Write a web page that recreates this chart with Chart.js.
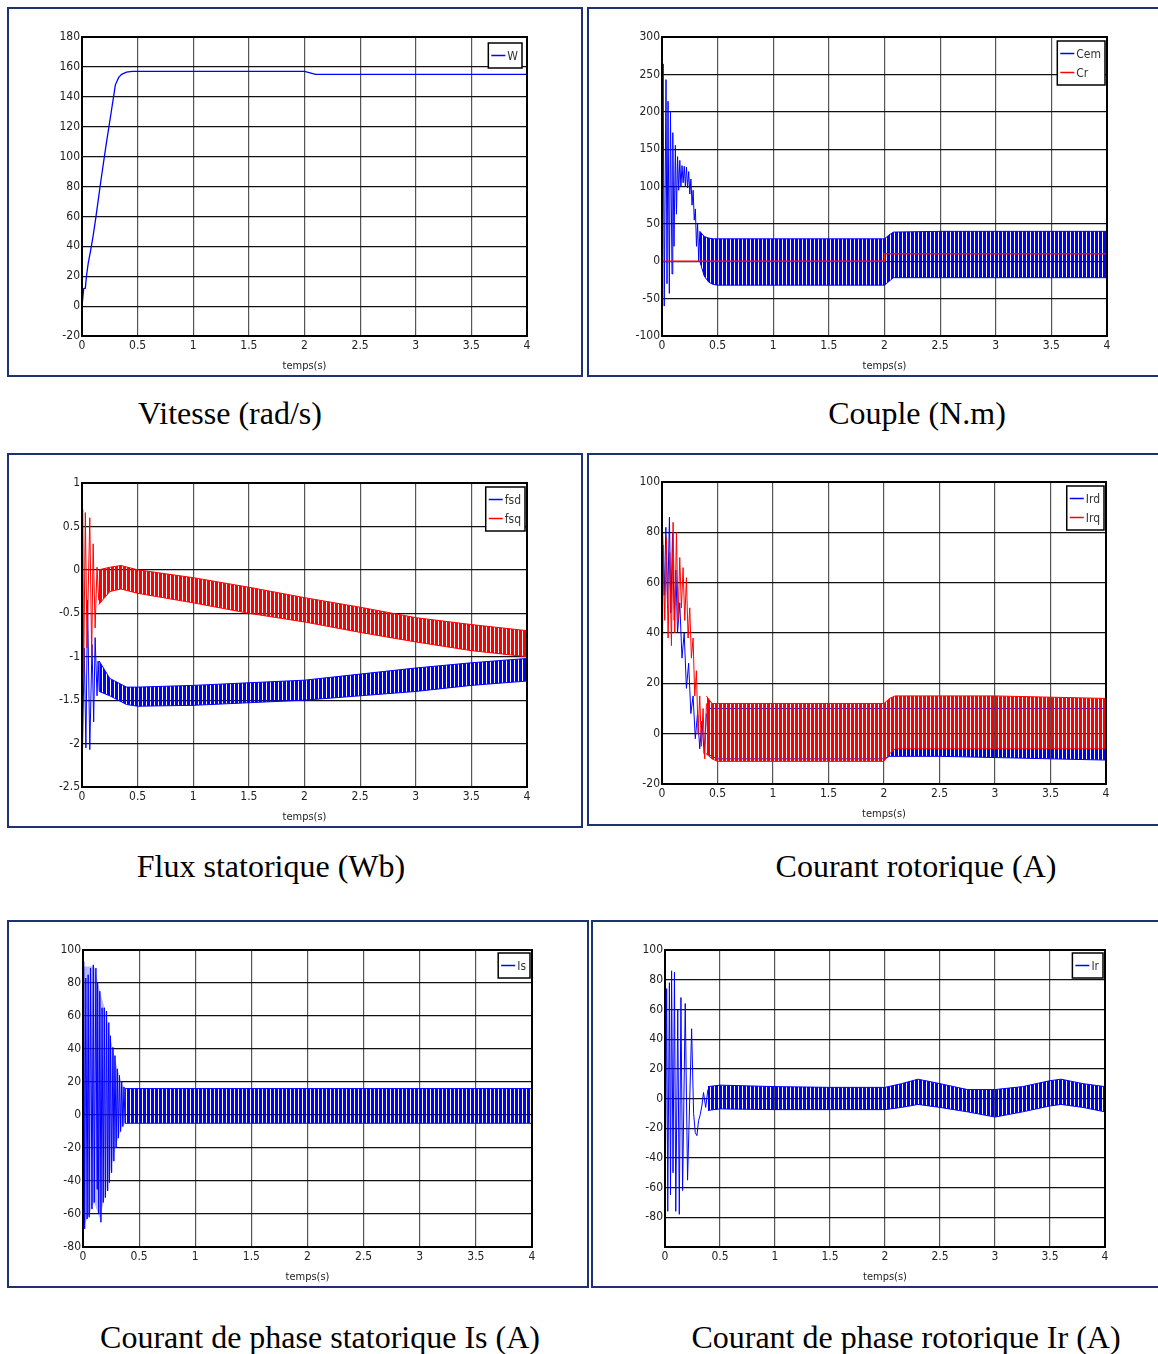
<!DOCTYPE html>
<html><head><meta charset="utf-8">
<script src="https://cdn.jsdelivr.net/npm/chart.js@4.4.1/dist/chart.umd.min.js"></script>
<style>
html,body{margin:0;padding:0;background:#fff;}
body{width:1158px;height:1354px;position:relative;overflow:hidden;}
.box{position:absolute;border:2px solid #1d3371;box-sizing:border-box;}
canvas{position:absolute;}
.cap{position:absolute;font-family:'Liberation Serif','Times New Roman',serif;font-size:32px;color:#000;white-space:nowrap;transform:translate(-50%,-50%);}
</style></head><body>
<div class="cap" style="left:230px;top:413px">Vitesse (rad/s)</div>
<div class="cap" style="left:917px;top:413px">Couple (N.m)</div>
<div class="cap" style="left:271px;top:866px">Flux statorique (Wb)</div>
<div class="cap" style="left:916px;top:866px">Courant rotorique (A)</div>
<div class="cap" style="left:320px;top:1337px">Courant de phase statorique Is (A)</div>
<div class="cap" style="left:906px;top:1337px">Courant de phase rotorique Ir (A)</div>
<script>
// ---------- tick labels ----------
const xTicks = [0,0.5,1,1.5,2,2.5,3,3.5,4];
const xTitle = 'temps(s)';
const yTicksW = [-20,0,20,40,60,80,100,120,140,160,180];
const yTicksCem = [-100,-50,0,50,100,150,200,250,300];
const yTicksFlux = [-2.5,-2,-1.5,-1,-0.5,0,0.5,1];
const yTicksIr = [-20,0,20,40,60,80,100];
const yTicksIs = [-80,-60,-40,-20,0,20,40,60,80,100];
const yTicksIrPh = [-100,-80,-60,-40,-20,0,20,40,60,80,100];
const yLabelsIrPh = ['','-80','-60','-40','-20','0','20','40','60','80','100'];

// ---------- Vitesse ----------
const W_t = [0,0.015,0.03,0.04,0.056,0.077,0.1,0.124,0.17,0.217,0.263,0.3,0.33,0.356,0.4,0.45,1.0,1.5,2.0,2.05,2.1,2.5,3,3.5,4];
const W_v = [0,11.6,12,20,28.7,37,47,59,84,108,130,148,153,155,156.5,157,157,157,157,156,155,155,155,155,155];

// ---------- Couple ----------
const Cem_tr_t = [0,0.005,0.01,0.02,0.036,0.045,0.054,0.066,0.076,0.09,0.097,0.108,0.12,0.13,0.14,0.15,0.16,0.17,0.18,0.19,0.2,0.21,0.22,0.23,0.24,0.25,0.26,0.27,0.28,0.29,0.3,0.31,0.32,0.33,0.34];
const Cem_tr_v = [0,150,264,-60,243,-30,214,-43,201,-17,172,20,155,63,140,95,135,100,128,105,127,100,126,98,120,90,110,75,95,55,70,20,50,0,40];
const Cem_b_t = [0.34,0.38,0.42,0.46,0.5,1,1.5,1.98,2.0,2.04,2.08,2.5,3,3.5,4];
const Cem_up = [40,33,31,30,30,30,30,30,30,35,39,40,40,40,40];
const Cem_lo = [0,-20,-28,-31,-32,-32,-32,-32,-32,-27,-22,-22,-22,-22,-22];
const Cr_t = [0,2,2,4];
const Cr_v = [0,0,10,10];

// ---------- Flux statorique ----------
const fsq_tr_t = [0,0.006,0.015,0.03,0.045,0.07,0.087,0.1,0.118,0.135,0.15];
const fsq_tr_v = [-1.3,0.7,-1.2,0.66,-0.9,0.6,-1.0,0.3,-0.67,0.03,-0.35];
const fsq_b_t = [0.15,0.25,0.35,0.5,1,1.5,2,2.5,3,3.5,4];
const fsq_up = [0.0,0.03,0.05,0.0,-0.09,-0.2,-0.32,-0.43,-0.55,-0.63,-0.7];
const fsq_lo = [-0.4,-0.25,-0.22,-0.27,-0.38,-0.5,-0.6,-0.72,-0.83,-0.93,-1.0];
const fsd_tr_t = [0,0.003,0.02,0.035,0.05,0.07,0.09,0.105,0.118,0.135,0.145,0.155];
const fsd_tr_v = [-1.3,-2.2,-0.9,-2.05,-0.35,-2.07,-0.86,-1.75,-0.78,-1.45,-1.05,-1.4];
const fsd_b_t = [0.155,0.25,0.4,0.5,1,1.5,2,2.5,3,3.5,4];
const fsd_up = [-1.05,-1.25,-1.35,-1.35,-1.33,-1.3,-1.27,-1.2,-1.13,-1.07,-1.02];
const fsd_lo = [-1.4,-1.45,-1.55,-1.57,-1.56,-1.53,-1.5,-1.45,-1.4,-1.33,-1.28];

// ---------- Courant rotorique ----------
const Ird_tr_t = [0,0.005,0.02,0.035,0.05,0.067,0.08,0.095,0.11,0.125,0.14,0.16,0.18,0.2,0.22,0.24,0.26,0.28,0.3,0.32,0.34,0.36,0.38,0.4];
const Ird_tr_v = [0,80,55,82,50,86,48,80,45,65,40,52,30,40,18,28,8,15,-2,8,-6,5,-8,8];
const Ird_b_t = [0.4,0.5,1,1.5,2,2.05,2.5,3,3.5,4];
const Ird_up = [10,10,10,10,10,10,10,10,10,10];
const Ird_lo = [-8,-10,-10,-10,-10,-9,-9,-9.5,-10,-10.5];
const Irq_tr_t = [0,0.01,0.025,0.04,0.055,0.07,0.085,0.1,0.115,0.13,0.145,0.16,0.175,0.19,0.205,0.22,0.235,0.25,0.265,0.28,0.295,0.31,0.325,0.34,0.355,0.37,0.385,0.4];
const Irq_tr_v = [0,75,45,78,38,72,35,84,40,80,45,70,50,66,45,62,38,50,30,38,15,25,0,15,-5,10,-10,12];
const Irq_b_t = [0.4,0.45,0.5,1,1.5,2,2.05,2.1,2.5,3,3.5,4];
const Irq_up = [15,12,12,12,12,12,14,15,15,15,14.5,14];
const Irq_lo = [-8,-10,-11,-11,-11,-11,-8,-6,-6,-6,-6,-6];

// ---------- Is ----------
const Is_tr_t = [0,0.006,0.015,0.025,0.037,0.046,0.055,0.067,0.08,0.092,0.1,0.115,0.125,0.13,0.14,0.15,0.16,0.17,0.18,0.19,0.2,0.21,0.22,0.23,0.236,0.245,0.255,0.267,0.275,0.285,0.295,0.305,0.315,0.325,0.335,0.345,0.355,0.365,0.375];
const Is_tr_v = [0,93,-69,83,-63,85,-62,89,-57,91,-53,89,-45,80,-60,75,-65,65,-53,65,-50,63,-46,56,-41,48,-35,41,-28,36,-20,28,-14,24,-10,20,-7,17,-5];
const Is_env_t = [0.005,0.1,0.15,0.2,0.25,0.3,0.35,0.375];
const Is_env_up = [90,90,75,63,45,30,18,16];
const Is_env_lo = [-68,-53,-63,-48,-32,-17,-7,-5];
const Is_b_t = [0.375,0.5,1,1.5,2,2.5,3,3.5,4];
const Is_up = [16,16,16,16,16,16,16,16,16];
const Is_lo = [-5,-5,-5,-5,-5,-5,-5,-5,-5];

// ---------- Ir ----------
const Ir_tr_t = [0,0.015,0.025,0.04,0.05,0.06,0.073,0.086,0.098,0.116,0.13,0.145,0.16,0.184,0.205,0.242,0.26,0.275,0.29,0.305,0.32,0.335,0.35,0.37,0.39];
const Ir_tr_v = [-80,74,-76,78,-65,86,-50,85,-76,60,-78,68,-62,64,-55,47,-10,-23,-25,-15,-11,-5,4,-6,6];
const Ir_b_t = [0.39,0.5,1,1.5,2,2.15,2.3,2.5,2.75,3,3.25,3.5,3.6,3.8,4];
const Ir_up = [8,9,8,7.5,7.5,10,13,10,6,6,8,12,13,10,8];
const Ir_lo = [-8,-7,-7.5,-7.5,-7.5,-6,-4,-6,-9,-12.5,-9,-5,-4,-6,-9];

// ---------- helpers ----------
const BLUE = '#0000ff', RED = '#ff0000';
function stripes(color) {
  const c = document.createElement('canvas');
  c.width = 4; c.height = 4;
  const x = c.getContext('2d');
  x.fillStyle = color; x.fillRect(0, 0, 3, 4);
  return x.createPattern(c, 'repeat');
}
const BLUE_FILL = stripes(BLUE), RED_FILL = stripes(RED);
const PALE_FILL = 'rgba(80,80,255,0.4)';
const NARROW = "'Liberation Sans Narrow','DejaVu Sans Condensed','Arial Narrow',sans-serif";
const pts = (t, v) => t.map((x, i) => ({x: x, y: v[i]}));
function line(label, t, v, color, order, w) {
  return {label, data: pts(t, v), borderColor: color, borderWidth: w || 1, fill: false, order: order};
}
function band(label, t, up, lo, color, fillColor, order, bw) {
  const w = bw === undefined ? 1 : bw;
  return [
    {label: label + '_up', data: pts(t, up), borderColor: color, borderWidth: w, fill: false, order: order},
    {label: label + '_lo', data: pts(t, lo), borderColor: color, borderWidth: w, fill: '-1', backgroundColor: fillColor, order: order}
  ];
}

const framePlugin = {
  id: 'frame',
  afterDraw(chart, args, opts) {
    const ctx = chart.ctx, a = chart.chartArea;
    ctx.save();
    ctx.strokeStyle = '#000'; ctx.lineWidth = 2;
    ctx.strokeRect(a.left, a.top, a.right - a.left, a.bottom - a.top);
    ctx.fillStyle = '#222';
    ctx.font = '11px ' + NARROW;
    ctx.textAlign = 'center'; ctx.textBaseline = 'middle';
    ctx.fillText(opts.title, (a.left + a.right) / 2, a.bottom + 30);
    const items = opts.items;
    ctx.font = '12px ' + NARROW;
    let tw = 0;
    items.forEach(it => { tw = Math.max(tw, ctx.measureText(it.label).width); });
    const rowH = 19, pad = 3, lineL = 14;
    const bw = pad + lineL + 2 + tw + pad + 1;
    const bh = pad * 2 + rowH * items.length;
    const bx = a.right - opts.dx - bw, by = a.top + opts.dy;
    ctx.fillStyle = '#fff';
    ctx.fillRect(bx, by, bw, bh);
    ctx.strokeStyle = '#000'; ctx.lineWidth = 1.5;
    ctx.strokeRect(bx, by, bw, bh);
    items.forEach((it, i) => {
      const cy = by + pad + rowH * i + rowH / 2;
      ctx.strokeStyle = it.color; ctx.lineWidth = 1.5;
      ctx.beginPath(); ctx.moveTo(bx + pad, cy); ctx.lineTo(bx + pad + lineL, cy); ctx.stroke();
      ctx.fillStyle = '#333'; ctx.textAlign = 'left'; ctx.textBaseline = 'middle';
      ctx.fillText(it.label, bx + pad + lineL + 2, cy + 1);
    });
    ctx.restore();
  }
};

function makeChart(g, yMin, yMax, yTicks, yLabels, datasets, legendItems, legendOff) {
  const YW = 40, XH = 32;
  const box = document.createElement('div');
  box.className = 'box';
  box.style.left = g.L + 'px'; box.style.top = g.T + 'px';
  box.style.width = (g.R - g.L) + 'px'; box.style.height = (g.B - g.T) + 'px';
  document.body.appendChild(box);
  const cv = document.createElement('canvas');
  cv.width = g.R - g.L; cv.height = g.B - g.T;
  cv.style.left = g.L + 'px'; cv.style.top = g.T + 'px';
  cv.style.width = (g.R - g.L) + 'px'; cv.style.height = (g.B - g.T) + 'px';
  document.body.appendChild(cv);
  return new Chart(cv.getContext('2d'), {
    type: 'line',
    data: {datasets: datasets},
    plugins: [framePlugin],
    options: {
      responsive: false, animation: false, devicePixelRatio: 1,
      layout: {autoPadding: false, padding: {left: g.x0 - g.L - YW, top: g.y0 - g.T, right: g.R - g.x1, bottom: g.B - g.y1 - XH}},
      elements: {point: {radius: 0, hoverRadius: 0}, line: {tension: 0}},
      plugins: {legend: {display: false}, tooltip: {enabled: false},
        frame: {title: xTitle, items: legendItems, dx: legendOff[0], dy: legendOff[1]}},
      scales: {
        x: {type: 'linear', min: 0, max: 4,
          afterFit: s => { s.height = XH; },
          afterBuildTicks: s => { s.ticks = xTicks.map(v => ({value: v})); },
          ticks: {autoSkip: false, maxRotation: 0, padding: 3, color: '#222', font: {family: NARROW, size: 12},
            callback: v => String(v)},
          grid: {color: '#555', lineWidth: 1.2, drawTicks: false},
          border: {display: false}},
        y: {type: 'linear', min: yMin, max: yMax,
          afterFit: s => { s.width = YW; },
          afterBuildTicks: s => { s.ticks = yTicks.map(v => ({value: v})); },
          ticks: {autoSkip: false, padding: 2, color: '#222', font: {family: NARROW, size: 12},
            callback: (v, i) => yLabels ? yLabels[i] : String(v)},
          grid: {color: '#111', lineWidth: 1.2, drawTicks: false},
          border: {display: false}}
      }
    }
  });
}

// ---------- panels ----------
makeChart({L:7,T:7,R:583,B:377,x0:82,x1:527,y0:37,y1:336}, -20, 180, yTicksW, null,
  [line('W', W_t, W_v, BLUE, 0, 1.3)],
  [{label: 'W', color: BLUE}], [5, 6]);

makeChart({L:587,T:7,R:1162,B:377,x0:662,x1:1107,y0:37,y1:336}, -100, 300, yTicksCem, null,
  [line('Cr', Cr_t, Cr_v, RED, 0, 1.5),
   line('Cem', Cem_tr_t, Cem_tr_v, BLUE, 1, 1)].concat(band('Cem', Cem_b_t, Cem_up, Cem_lo, BLUE, BLUE_FILL, 1)),
  [{label: 'Cem', color: BLUE}, {label: 'Cr', color: RED}], [2, 4]);

makeChart({L:7,T:453,R:583,B:828,x0:82,x1:527,y0:483,y1:787}, -2.5, 1, yTicksFlux, null,
  [line('fsq', fsq_tr_t, fsq_tr_v, RED, 0, 1),
   line('fsd', fsd_tr_t, fsd_tr_v, BLUE, 1, 1)]
   .concat(band('fsq', fsq_b_t, fsq_up, fsq_lo, RED, RED_FILL, 0))
   .concat(band('fsd', fsd_b_t, fsd_up, fsd_lo, BLUE, BLUE_FILL, 1)),
  [{label: 'fsd', color: BLUE}, {label: 'fsq', color: RED}], [2, 4]);

makeChart({L:587,T:453,R:1162,B:826,x0:662,x1:1106,y0:482,y1:784}, -20, 100, yTicksIr, null,
  [line('Irq', Irq_tr_t, Irq_tr_v, RED, 0, 1),
   line('Ird', Ird_tr_t, Ird_tr_v, BLUE, 1, 1)]
   .concat(band('Irq', Irq_b_t, Irq_up, Irq_lo, RED, RED_FILL, 0))
   .concat(band('Ird', Ird_b_t, Ird_up, Ird_lo, BLUE, BLUE_FILL, 1)),
  [{label: 'Ird', color: BLUE}, {label: 'Irq', color: RED}], [2, 4]);

makeChart({L:7,T:920,R:589,B:1288,x0:83,x1:532,y0:950,y1:1247}, -80, 100, yTicksIs, null,
  [line('Is', Is_tr_t, Is_tr_v, BLUE, 0, 1)]
   .concat(band('Is_env', Is_env_t, Is_env_up, Is_env_lo, 'rgba(0,0,0,0)', PALE_FILL, 1, 0))
   .concat(band('Is', Is_b_t, Is_up, Is_lo, BLUE, BLUE_FILL, 0)),
  [{label: 'Is', color: BLUE}], [2, 3]);

makeChart({L:591,T:920,R:1162,B:1288,x0:665,x1:1105,y0:950,y1:1247}, -100, 100, yTicksIrPh, yLabelsIrPh,
  [line('Ir', Ir_tr_t, Ir_tr_v, BLUE, 0, 1)].concat(band('Ir', Ir_b_t, Ir_up, Ir_lo, BLUE, BLUE_FILL, 0)),
  [{label: 'Ir', color: BLUE}], [2, 3]);
</script>
</body></html>
